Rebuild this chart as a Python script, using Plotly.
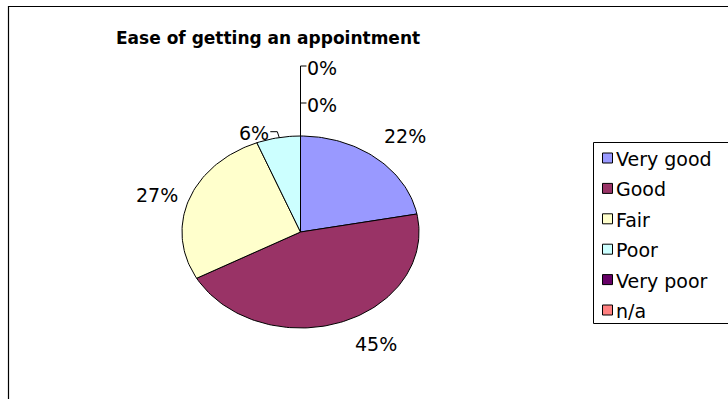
import numpy as np
import plotly.graph_objects as go

# Survey answers and their shares (percent)
categories = ["Very good", "Good", "Fair", "Poor", "Very poor", "n/a"]
shares = [22, 45, 27, 6, 0, 0]
slice_labels = ["22%", "45%", "27%", "6%", "0%", "0%"]
colors = ["#9999FF", "#993366", "#FFFFCC", "#CCFFFF", "#660066", "#FF8080"]
title_text = "Ease of getting an appointment"

W, H = 728, 399
CX, CY, RX, RY = 300.5, 232.0, 118.5, 96.0   # pie centre and radii (px)
FONT = "DejaVu Sans"
LABEL_SIZE = 19
# small hand nudges (px) for individual data labels
label_nudge = {"Good": (8, -3), "Very good": (-2, 0), "Fair": (2, 0)}

fig = go.Figure()


def on_ellipse(t, grow=0.0):
    return CX + (RX + grow) * np.sin(t), CY - (RY + grow) * np.cos(t)


# Pie slices, clockwise from 12 o'clock
total = float(sum(shares))
start = 0.0
mid_angles = []
for name, v, c in zip(categories, shares, colors):
    frac = v / total
    t0, t1 = start * 2 * np.pi, (start + frac) * 2 * np.pi
    mid_angles.append((t0 + t1) / 2)
    start += frac
    if v <= 0:
        continue
    t = np.linspace(t0, t1, max(3, int(240 * frac) + 3))
    ex, ey = on_ellipse(t)
    fig.add_trace(go.Scatter(
        x=np.concatenate([[CX], ex, [CX]]),
        y=np.concatenate([[CY], ey, [CY]]),
        mode="lines", fill="toself", fillcolor=c,
        line=dict(color="black", width=1),
        hoverinfo="skip", showlegend=False,
    ))

# Percentage labels
annotations = []
zero_idx = []
for i, (name, v, lab, t) in enumerate(zip(categories, shares, slice_labels, mid_angles)):
    if v == 0:
        zero_idx.append(i)
        continue
    px, py = on_ellipse(t)
    s, c = np.sin(t), np.cos(t)
    if v < 10:
        # small slice: label pulled to the left with a short leader
        lx, ly = px - 8, py - 6
        fig.add_trace(go.Scatter(
            x=[px + 1, px - 1, lx], y=[py, ly, ly], mode="lines",
            line=dict(color="black", width=1), hoverinfo="skip", showlegend=False))
        annotations.append(dict(x=lx + 1, y=ly + 1, text=lab, showarrow=False,
                                xanchor="right", yanchor="middle",
                                font=dict(family=FONT, size=LABEL_SIZE, color="black")))
        continue
    gap = 12
    dx, dy = label_nudge.get(name, (0, 0))
    ax, ay = px + gap * s + dx, py - gap * c + dy
    xa = "left" if s > 0.3 else ("right" if s < -0.3 else "center")
    ya = "bottom" if c > 0.5 else ("top" if c < -0.5 else "middle")
    annotations.append(dict(x=ax, y=ay, text=lab, showarrow=False,
                            xanchor=xa, yanchor=ya,
                            font=dict(family=FONT, size=LABEL_SIZE, color="black")))

# Zero-share labels stacked above the pie on one leader
if zero_idx:
    tx, ty = on_ellipse(2 * np.pi)
    tick_ys = [103 - 37 * k for k in range(len(zero_idx))]
    fig.add_trace(go.Scatter(
        x=[tx, tx, tx + 6], y=[ty, tick_ys[-1], tick_ys[-1]], mode="lines",
        line=dict(color="black", width=1), hoverinfo="skip", showlegend=False))
    for k, i in enumerate(zero_idx):
        yk = tick_ys[k]
        if k < len(zero_idx) - 1:
            fig.add_trace(go.Scatter(
                x=[tx, tx + 6], y=[yk, yk], mode="lines",
                line=dict(color="black", width=1), hoverinfo="skip", showlegend=False))
        annotations.append(dict(x=tx + 4, y=yk + 2, text=slice_labels[i], showarrow=False,
                                xanchor="left", yanchor="middle",
                                font=dict(family=FONT, size=LABEL_SIZE, color="black")))

# Title
annotations.append(dict(x=268, y=38, text="<b>" + title_text + "</b>", showarrow=False,
                        xanchor="center", yanchor="middle",
                        font=dict(family=FONT, size=17, color="black")))

shapes = [
    # chart border
    dict(type="rect", x0=8.5, y0=6.5, x1=W + 20, y1=H + 20,
         line=dict(color="black", width=1.2), fillcolor="rgba(0,0,0,0)", layer="above"),
    # legend frame
    dict(type="rect", x0=593.5, y0=142.5, x1=W + 20, y1=323.5,
         line=dict(color="black", width=1), fillcolor="white", layer="below"),
]

# Legend entries
leg_y0, leg_step = 158, 30.4
for k, (name, c) in enumerate(zip(categories, colors)):
    yk = leg_y0 + k * leg_step
    shapes.append(dict(type="rect", x0=602.5, y0=yk - 5, x1=612.5, y1=yk + 5,
                       line=dict(color="black", width=1), fillcolor=c))
    annotations.append(dict(x=614, y=yk + 1, text=name, showarrow=False,
                            xanchor="left", yanchor="middle",
                            font=dict(family=FONT, size=19, color="black")))

fig.update_layout(
    width=W, height=H,
    margin=dict(l=0, r=0, t=0, b=0),
    paper_bgcolor="white", plot_bgcolor="white",
    xaxis=dict(range=[0, W], visible=False, fixedrange=True),
    yaxis=dict(range=[H, 0], visible=False, fixedrange=True),
    shapes=shapes, annotations=annotations,
    hovermode=False, showlegend=False,
)

fig.write_html("out.html")
